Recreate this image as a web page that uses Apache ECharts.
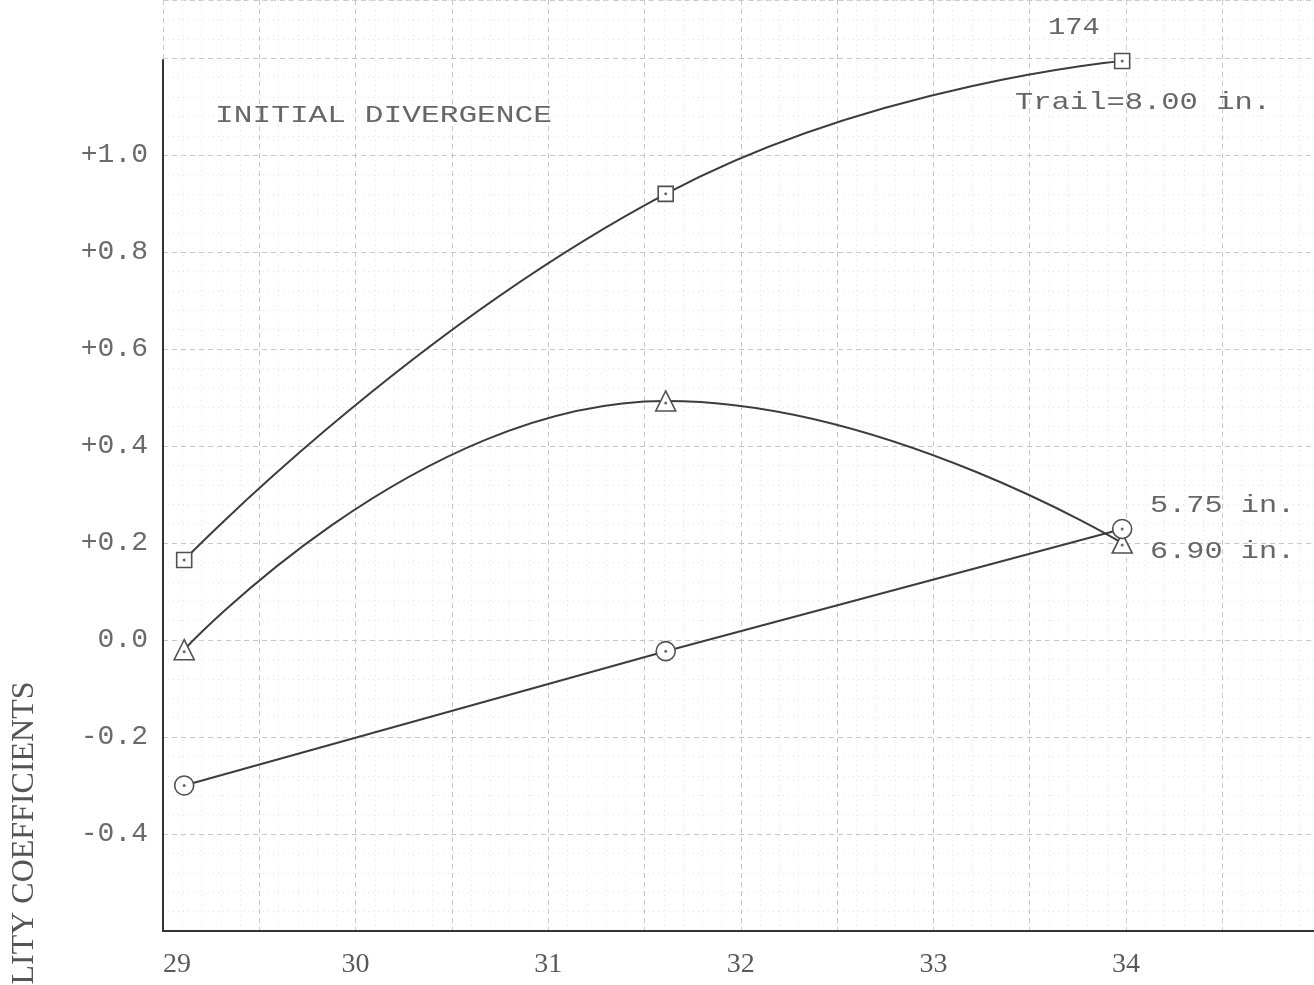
<!DOCTYPE html>
<html>
<head>
<meta charset="utf-8">
<script src="https://cdn.jsdelivr.net/npm/echarts@6/dist/echarts.min.js"></script>
<style>
  html, body { margin: 0; padding: 0; background: #ffffff; }
  #chart { width: 1314px; height: 985px; }
</style>
</head>
<body>
<div id="chart"></div>
<script>
// ---- data ----
const xValues = [29.11, 31.61, 33.98];
const trail800 = [0.165, 0.92, 1.194];   // squares, Trail = 8.00 in.
const trail690 = [-0.02, 0.493, 0.20];   // triangles, 6.90 in.
const trail575 = [-0.30, -0.023, 0.229]; // circles, 5.75 in.

const xTickValues = [29, 30, 31, 32, 33, 34];
const xTickLabels = ['29', '30', '31', '32', '33', '34'];
const yTickValues = [-0.4, -0.2, 0.0, 0.2, 0.4, 0.6, 0.8, 1.0];
const yTickLabels = ['-0.4', '-0.2', '0.0', '+0.2', '+0.4', '+0.6', '+0.8', '+1.0'];

const titleText = 'INITIAL DIVERGENCE';
const figureNumber = '174';
const seriesNames = ['Trail=8.00 in.', '6.90 in.', '5.75 in.'];
const yAxisName = 'LITY COEFFICIENTS';

// ---- helpers ----
function pairs(ys) { return xValues.map((x, i) => [x, ys[i]]); }
function lookup(values, labels, v) {
  for (let i = 0; i < values.length; i++) {
    if (Math.abs(values[i] - v) < 1e-6) return labels[i];
  }
  return '';
}

const INK = '#3c3c3c';
const TYPE = '#666666';
const MONO = 'Liberation Mono';
const X_MAX = 34.976;

function lineSeries(name, ys, symbol, size) {
  return {
    name: name,
    type: 'line',
    xAxisIndex: 0, yAxisIndex: 0,
    data: pairs(ys),
    smooth: 0.5,
    clip: false,
    symbol: symbol,
    symbolSize: size,
    showAllSymbol: true,
    lineStyle: { color: INK, width: 2 },
    itemStyle: { color: '#ffffff', borderColor: '#505050', borderWidth: 1.6 },
    z: 3
  };
}
function dotSeries(ys, offsetY) {
  return {
    type: 'scatter',
    xAxisIndex: 0, yAxisIndex: 0,
    data: pairs(ys),
    symbol: 'circle',
    symbolSize: 3,
    symbolOffset: [0, offsetY],
    itemStyle: { color: '#444' },
    clip: false,
    silent: true,
    z: 4
  };
}

const chart = echarts.init(document.getElementById('chart'), null, { renderer: 'canvas' });

const option = {
  backgroundColor: '#ffffff',
  animation: false,
  grid: [
    { left: 163, right: 0, top: 60, bottom: 54, containLabel: false },
    { left: 163, right: 0, top: 0, bottom: 54, containLabel: false }
  ],
  xAxis: [
    {
      type: 'value', gridIndex: 0, min: 29, max: X_MAX, interval: 1, z: 5,
      axisLine: { show: true, onZero: false, lineStyle: { color: '#333', width: 2 } },
      axisTick: { show: false },
      splitLine: { show: false },
      axisLabel: {
        show: true, margin: 20, alignMinLabel: 'left', showMaxLabel: false,
        fontFamily: 'Liberation Serif', fontSize: 28, color: '#5a5a5a',
        formatter: v => lookup(xTickValues, xTickLabels, v)
      }
    },
    {
      type: 'value', gridIndex: 1, min: 29, max: X_MAX, interval: 0.5, z: -1,
      axisLine: { show: false }, axisTick: { show: false }, axisLabel: { show: false },
      splitLine: { show: true, lineStyle: { color: '#c8c8c8', type: [5, 4], width: 1 } },
      minorTick: { show: false, splitNumber: 5 },
      minorSplitLine: { show: true, lineStyle: { color: '#e3e3e3', type: [1, 4], width: 1 } }
    }
  ],
  yAxis: [
    {
      type: 'value', gridIndex: 0, min: -0.6, max: 1.196, interval: 0.2, z: 5,
      axisLine: { show: true, onZero: false, lineStyle: { color: '#333', width: 2 } },
      axisTick: { show: false },
      splitLine: { show: false },
      axisLabel: {
        show: true, margin: 15,
        fontFamily: MONO, fontSize: 28, color: '#6a6a6a',
        formatter: v => lookup(yTickValues, yTickLabels, v)
      }
    },
    {
      type: 'value', gridIndex: 1, min: -0.6, max: 1.32, interval: 0.2, z: -1,
      axisLine: { show: false }, axisTick: { show: false }, axisLabel: { show: false },
      splitLine: { show: true, lineStyle: { color: '#c8c8c8', type: [5, 4], width: 1 } },
      minorTick: { show: false, splitNumber: 5 },
      minorSplitLine: { show: true, lineStyle: { color: '#e3e3e3', type: [1, 4], width: 1 } }
    }
  ],
  series: [
    lineSeries(seriesNames[0], trail800, 'rect', 15),
    lineSeries(seriesNames[1], trail690, 'triangle', 20),
    lineSeries(seriesNames[2], trail575, 'circle', 19),
    dotSeries(trail800, 0),
    dotSeries(trail690, 2),
    dotSeries(trail575, 0)
  ],
  graphic: [
    {
      type: 'text', x: 215, y: 116, scaleX: 1.3,
      style: { text: titleText, font: '24px "Liberation Mono"', fill: TYPE, textVerticalAlign: 'middle', textAlign: 'left' }
    },
    {
      type: 'text', x: 1048, y: 28, scaleX: 1.2,
      style: { text: figureNumber, font: '24px "Liberation Mono"', fill: TYPE, textVerticalAlign: 'middle', textAlign: 'left' }
    },
    {
      type: 'text', x: 1015, y: 103, scaleX: 1.27,
      style: { text: seriesNames[0], font: '24px "Liberation Mono"', fill: TYPE, textVerticalAlign: 'middle', textAlign: 'left' }
    },
    {
      type: 'text', x: 1150, y: 506, scaleX: 1.26,
      style: { text: seriesNames[2], font: '24px "Liberation Mono"', fill: TYPE, textVerticalAlign: 'middle', textAlign: 'left' }
    },
    {
      type: 'text', x: 1150, y: 552, scaleX: 1.26,
      style: { text: seriesNames[1], font: '24px "Liberation Mono"', fill: TYPE, textVerticalAlign: 'middle', textAlign: 'left' }
    },
    {
      type: 'text', x: 25, y: 833, rotation: Math.PI / 2,
      style: { text: yAxisName, font: '32px "Liberation Serif"', fill: '#555', textVerticalAlign: 'middle', textAlign: 'center' }
    }
  ]
};

chart.setOption(option);
</script>
</body>
</html>
